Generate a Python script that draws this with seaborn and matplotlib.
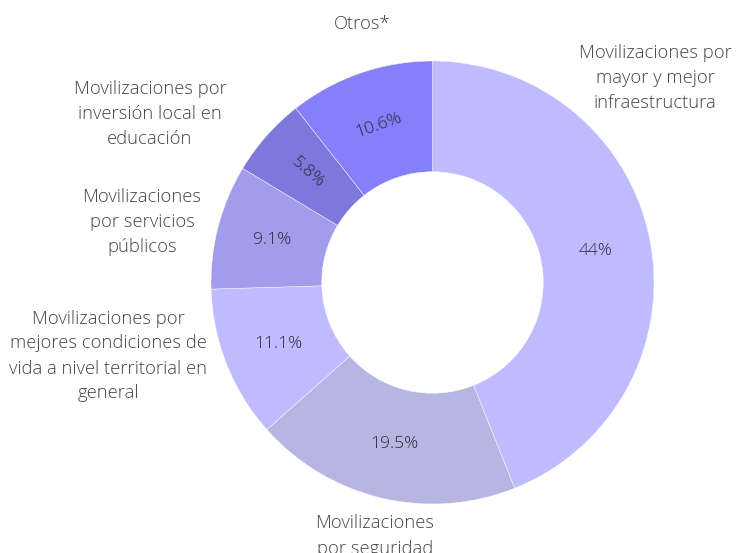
import matplotlib
matplotlib.use("Agg")
import matplotlib.pyplot as plt
import seaborn as sns
import numpy as np

categories = [
    "Movilizaciones por\nmayor y mejor\ninfraestructura",
    "Movilizaciones\npor seguridad",
    "Movilizaciones por\nmejores condiciones de\nvida a nivel territorial en\ngeneral",
    "Movilizaciones\npor servicios\npúblicos",
    "Movilizaciones por\ninversión local en\neducación",
    "Otros*",
]
values = [44, 19.5, 11.1, 9.1, 5.8, 10.6]
pct_labels = ["44%", "19.5%", "11.1%", "9.1%", "5.8%", "10.6%"]

colors = ["#bfbbff", "#b7b5e2", "#bfbbff", "#a29deb", "#7e78dc", "#857ffc"]
orient = ["h", "h", "h", "h", "r", "t"]
# outside label centre positions in pixels (x, y from top)
label_pos = [(655, 78), (375, 536), (108, 356), (142, 222), (150, 114), (362, 24)]

sns.set_theme(style="white")
plt.rcParams['font.family'] = ['Open Sans', 'DejaVu Sans']

W, H = 740, 553
fig = plt.figure(figsize=(W / 100, H / 100), dpi=100)
cx, cy, R = 432.5, 282.5, 221.5
ax = fig.add_axes([(cx - R) / W, (H - cy - R) / H, 2 * R / W, 2 * R / H])

wedges, _ = ax.pie(values, colors=colors, startangle=90, counterclock=False,
                   radius=1, wedgeprops=dict(width=0.5, edgecolor="white", linewidth=0.3))
ax.set_xlim(-1, 1)
ax.set_ylim(-1, 1)
ax.set_aspect("equal")
ax.axis("off")

total = sum(values)
cum = 0
for v, lab, o in zip(values, pct_labels, orient):
    mid = 90 - 360 * (cum + v / 2) / total
    cum += v
    r = 0.75
    x, y = r * np.cos(np.radians(mid)), r * np.sin(np.radians(mid))
    if o == "h":
        rot = 0
    elif o == "r":
        rot = mid + 180 if np.cos(np.radians(mid)) < 0 else mid
    else:
        rot = mid - 90
    ax.text(x, y, lab, ha="center", va="center", rotation=rot,
            rotation_mode="anchor", fontsize=12.5, color="#2a2a3a", fontweight="light")

for lab, (px, py) in zip(categories, label_pos):
    fig.text(px / W, 1 - py / H, lab, ha="center", va="center", fontsize=13.2,
             color="#444444", linespacing=1.5, fontweight="light")

fig.savefig("out.png", dpi=100)
